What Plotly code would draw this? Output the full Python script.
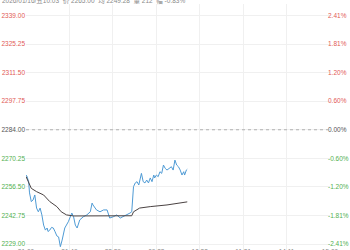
import plotly.graph_objects as go

# ---- data ----
HEADER = "2026/01/16/五10:03  价 2265.00  均 2249.28  量 212  幅 -0.83%"
PREV_CLOSE = 2284.00
TOTAL_MINUTES = 345  # 21:00-23:00, 09:00-10:15, 10:30-11:30, 13:30-15:00

price_minute = [0, 1, 3, 4, 6, 8, 10, 12, 14, 16, 18, 20, 22, 24, 25, 27, 29, 31, 33, 35,
                37, 39, 41, 42, 44, 48, 52, 54, 56, 58, 61, 65, 69, 73, 75, 76, 80, 84,
                88, 92, 95, 99, 103, 107, 110, 114, 118, 120, 122, 124, 126, 128, 129,
                131, 133, 135, 137, 139, 141, 143, 145, 146, 148, 150, 152, 154, 156,
                158, 160, 163, 165, 167, 169, 171, 173, 175, 177, 179, 180, 182, 183]
price_value = [2262.2, 2261.7, 2259.0, 2253.6, 2249.4, 2250.2, 2252.6, 2246.3, 2244.5,
               2246.3, 2243.0, 2238.1, 2235.7, 2236.7, 2235.0, 2235.7, 2237.0, 2236.7,
               2234.9, 2232.9, 2232.4, 2227.7, 2230.9, 2233.3, 2236.7, 2239.7, 2243.9,
               2242.1, 2238.1, 2236.7, 2240.6, 2242.1, 2243.0, 2244.5, 2248.7, 2247.8,
               2245.4, 2244.5, 2245.4, 2245.4, 2241.5, 2242.1, 2243.0, 2241.5, 2242.1,
               2243.0, 2243.9, 2244.5, 2256.6, 2258.4, 2259.0, 2257.4, 2259.8, 2263.0,
               2259.0, 2258.4, 2259.8, 2258.4, 2260.8, 2259.0, 2262.2, 2260.8, 2262.2,
               2261.4, 2263.8, 2263.0, 2267.0, 2265.4, 2264.6, 2265.4, 2266.2, 2264.6,
               2269.4, 2267.0, 2266.2, 2264.6, 2262.2, 2263.8, 2262.2, 2264.6, 2265.0]

avg_minute = [0, 3, 6, 12, 20, 27, 35, 40, 46, 54, 80, 100, 120, 122, 129, 141, 160, 183]
avg_value = [2261.5, 2258.2, 2255.8, 2254.2, 2252.6, 2249.4, 2247.0, 2244.5, 2243.0,
             2242.5, 2242.5, 2242.6, 2242.6, 2244.5, 2246.3, 2247.0, 2247.8, 2249.28]

y_ticks = [2229.00, 2242.75, 2256.50, 2270.25, 2284.00, 2297.75, 2311.50, 2325.25, 2339.00]
y_tick_text = ["2229.00", "2242.75", "2256.50", "2270.25", "2284.00",
               "2297.75", "2311.50", "2325.25", "2339.00"]
pct_tick_text = ["-2.41%", "-1.81%", "-1.20%", "-0.60%", "0.00%",
                 "0.60%", "1.20%", "1.81%", "2.41%"]
x_tick_text = ["21:00", "21:49", "22:39", "09:28", "10:32", "11:21", "14:11", "15:00"]

# ---- style ----
RED = "#df5a55"
GREEN = "#52b050"
GREY = "#555555"
FONT = "Liberation Sans, Noto Sans CJK SC, sans-serif"


def colored(texts, vals):
    out = []
    for t, v in zip(texts, vals):
        c = RED if v > PREV_CLOSE else (GREEN if v < PREV_CLOSE else GREY)
        out.append(f"<span style='color:{c}'>{t}</span>")
    return out


# plot area geometry: top at 4px, bottom at 250px; 2339 at 15.5px, 2229 at 244px
px_per_unit = (244 - 15.5) / (y_ticks[-1] - y_ticks[0])
y_top = y_ticks[-1] + (15.5 - 4) / px_per_unit
y_bot = y_ticks[0] - (250 - 244) / px_per_unit
y_range = [y_bot, y_top]

x_tickvals = [TOTAL_MINUTES * k / 7 for k in range(8)]

fig = go.Figure()
fig.add_trace(go.Scatter(x=price_minute, y=price_value, mode="lines",
                         line=dict(color="#4f9bd5", width=1), hoverinfo="skip"))
fig.add_trace(go.Scatter(x=avg_minute, y=avg_value, mode="lines",
                         line=dict(color="#4a4242", width=1), hoverinfo="skip"))
# anchor trace so the right-hand percentage axis is drawn
fig.add_trace(go.Scatter(x=[0], y=[PREV_CLOSE], yaxis="y2", mode="lines",
                         line=dict(width=0), hoverinfo="skip"))

fig.add_hline(y=PREV_CLOSE, line=dict(color="#b0b0b0", width=1, dash="3px,3px"))

fig.update_layout(
    width=350, height=250,
    margin=dict(l=26, r=20, t=4, b=0, autoexpand=False),
    paper_bgcolor="white", plot_bgcolor="white",
    showlegend=False,
    font=dict(family=FONT, size=6.5, color="#888888"),
    title=dict(text=HEADER, x=2 / 350, xref="container", xanchor="left",
               y=1 - 0.5 / 250, yref="container", yanchor="middle",
               pad=dict(t=0, b=0, l=0, r=0), automargin=False,
               font=dict(family=FONT, size=6.5, color="#8a8a8a")),
    xaxis=dict(range=[0, TOTAL_MINUTES], tickvals=x_tickvals, ticktext=x_tick_text,
               showgrid=True, gridcolor="#f0f0f0", gridwidth=1, zeroline=False,
               showline=False, ticks="", anchor="free", position=4 / 246,
               automargin=False, tickfont=dict(size=6.5, color="#888888")),
    yaxis=dict(range=y_range, tickvals=y_ticks, ticktext=colored(y_tick_text, y_ticks),
               showgrid=True, gridcolor="#f0f0f0", gridwidth=1, zeroline=False,
               showline=False, ticks="", automargin=False, tickfont=dict(size=6.5)),
    yaxis2=dict(range=y_range, overlaying="y", side="right", tickvals=y_ticks,
                ticktext=colored(pct_tick_text, y_ticks), showgrid=False,
                zeroline=False, showline=False, ticks="", ticklabelstandoff=-3,
                automargin=False, tickfont=dict(size=6.5)),
)

fig.write_html("out.html")
